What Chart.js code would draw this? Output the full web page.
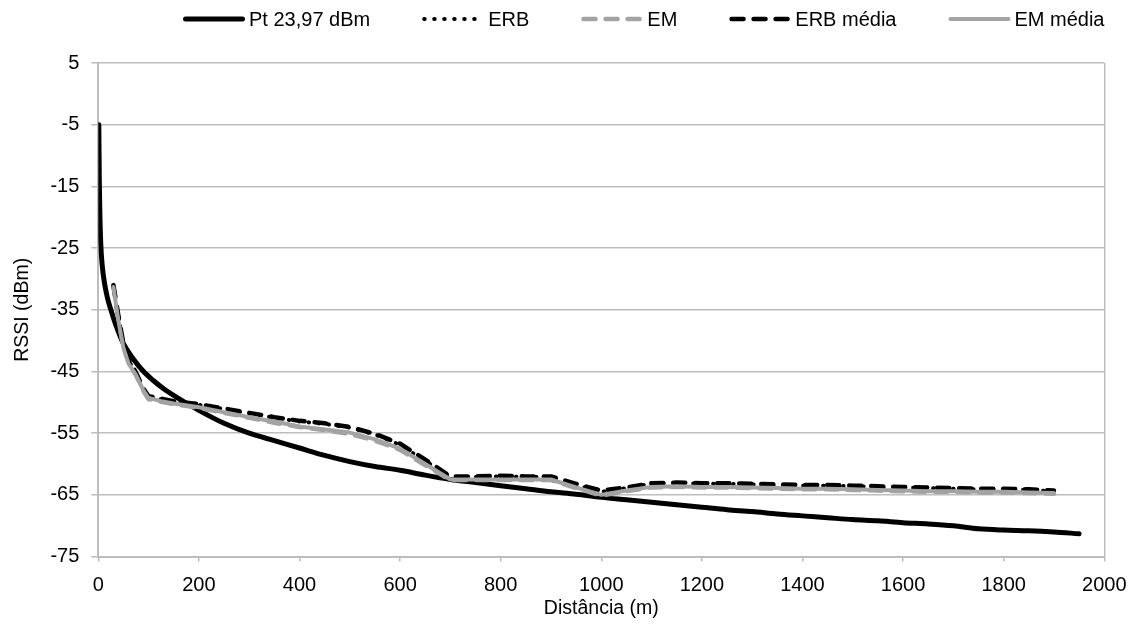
<!DOCTYPE html>
<html lang="pt-BR">
<head>
<meta charset="utf-8">
<title>RSSI x Distância</title>
<script src="https://cdn.jsdelivr.net/npm/chart.js@4.4.1/dist/chart.umd.min.js"></script>
<style>
    html, body { margin: 0; padding: 0; background: #fff; }
    canvas { display: block; }
</style>
</head>
<body>
<canvas id="graficoRssi" width="1138" height="630"></canvas>
<script>

/* =========================
   DADOS
========================= */

// curva teórica (Pt 23,97 dBm)
const distPt = [
    1, 2, 3, 5, 8, 12, 18, 25, 35, 50, 70, 90, 110, 130, 160,
    200, 250, 300, 350, 400, 450, 500, 550, 600, 650, 700, 750,
    800, 850, 900, 950, 1000, 1050, 1100, 1150, 1200, 1250, 1300,
    1350, 1400, 1450, 1500, 1550, 1600, 1650, 1700, 1750, 1800,
    1850, 1900, 1950
];
const rssiPt = [
    -5, -14, -19, -24.5, -28, -30.5, -33, -35, -37.5, -40.5, -43, -45, -46.5, -47.8, -49.4,
    -51.3, -53.4, -55, -56.2, -57.4, -58.6, -59.6, -60.4, -61, -61.8, -62.5, -63,
    -63.5, -64, -64.5, -64.9, -65.4, -65.8, -66.2, -66.6, -67, -67.4, -67.7,
    -68.1, -68.4, -68.7, -69, -69.2, -69.5, -69.7, -70, -70.5, -70.7,
    -70.8, -71, -71.3
];

// medições (ERB / EM)
const distMedidas = [
    30, 40, 50, 60, 75, 90, 100, 125, 150, 200, 250, 300, 350, 400, 450,
    500, 550, 600, 650, 700, 750, 800, 850, 900, 950, 1000, 1050, 1100,
    1150, 1200, 1250, 1300, 1350, 1400, 1450, 1500, 1550, 1600, 1650,
    1700, 1750, 1800, 1850, 1900
];
const rssiErb = [
    -31.2, -36.3, -40.7, -43.2, -45.4, -48.1, -49.2, -49.5, -49.9, -50.4, -51.1, -51.8, -52.5, -53.1, -53.5,
    -54.1, -55.2, -56.9, -59.5, -62.1, -62.1, -62, -62.1, -62.1, -63.4, -64.5, -63.9, -63.2,
    -63.1, -63.2, -63.2, -63.3, -63.4, -63.5, -63.5, -63.6, -63.7, -63.8, -63.9,
    -64, -64.1, -64.1, -64.2, -64.4
];
const rssiEm = [
    -31.1, -36.6, -41, -43.5, -45.6, -48.2, -49.5, -49.9, -50.3, -50.9, -51.7, -52.5, -53.3, -54, -54.5,
    -55.1, -56.2, -57.7, -60.2, -62.6, -62.6, -62.6, -62.6, -62.6, -63.9, -65.1, -64.4, -63.8,
    -63.7, -63.8, -63.8, -63.9, -64, -64.1, -64.1, -64.2, -64.3, -64.4, -64.5,
    -64.5, -64.6, -64.6, -64.7, -64.8
];
const rssiErbMedia = [
    -31, -36, -40.5, -43, -45.2, -47.8, -49, -49.4, -49.8, -50.3, -51, -51.7, -52.4, -53, -53.4,
    -54, -55.1, -56.7, -59.3, -62, -62, -61.9, -62, -62, -63.2, -64.3, -63.8, -63.1,
    -63, -63.1, -63.1, -63.2, -63.3, -63.4, -63.4, -63.5, -63.6, -63.7, -63.8,
    -63.9, -64, -64, -64.1, -64.3
];
const rssiEmMedia = [
    -31.3, -36.8, -41.2, -43.7, -45.6, -48.1, -49.3, -49.8, -50.2, -50.8, -51.6, -52.4, -53.1, -53.9, -54.4,
    -54.9, -56, -57.5, -60, -62.5, -62.5, -62.5, -62.5, -62.5, -63.8, -65, -64.3, -63.7,
    -63.6, -63.7, -63.7, -63.8, -63.9, -64, -64, -64.1, -64.2, -64.3, -64.4,
    -64.4, -64.5, -64.5, -64.6, -64.7
];

// marcas dos eixos
const xTicks = [0, 200, 400, 600, 800, 1000, 1200, 1400, 1600, 1800, 2000];
const yTicks = [5, -5, -15, -25, -35, -45, -55, -65, -75];


/* =========================
   ESTILO
========================= */

const fonte = '"Liberation Sans", Arial, sans-serif';
const cinzaGrade = "#bdbdbd";
const cinzaSerie = "#a3a3a3";

Chart.defaults.font.family = fonte;
Chart.defaults.color = "#000";

function pontos(xs, ys) {
    return xs.map((x, i) => ({ x, y: ys[i] }));
}


/* =========================
   LEGENDA (linhas)
========================= */

const legendaLinhas = {

    id: "legendaLinhas",

    afterDraw(chart) {

        const ctx = chart.ctx;
        const amostra = 62;
        const espacoTexto = 4;
        const espacoItem = 52;
        const y = 19;

        let x = 183;

        ctx.save();
        ctx.font = "20px " + fonte;
        ctx.textBaseline = "middle";

        chart.data.datasets.forEach(ds => {

            ctx.beginPath();
            ctx.strokeStyle = ds.borderColor;
            ctx.lineWidth = ds.borderWidth;
            ctx.lineCap = ds.borderCapStyle || "butt";
            ctx.setLineDash(ds.borderDash || []);
            ctx.moveTo(x + ds.borderWidth / 2, y);
            ctx.lineTo(x + amostra - ds.borderWidth / 2, y);
            ctx.stroke();

            ctx.setLineDash([]);
            ctx.fillStyle = "#000";
            ctx.fillText(ds.label, x + amostra + espacoTexto, y + 1);

            x += amostra + espacoTexto + ctx.measureText(ds.label).width + espacoItem;

        });

        ctx.restore();

    }

};


/* =========================
   GRÁFICO
========================= */

const canvas = document.getElementById("graficoRssi");

new Chart(canvas.getContext("2d"), {

    type: "line",

    data: {
        datasets: [
            {
                label: "Pt 23,97 dBm",
                data: pontos(distPt, rssiPt),
                borderColor: "#000",
                borderWidth: 5,
                borderCapStyle: "round",
                cubicInterpolationMode: "monotone",
                order: 5
            },
            {
                label: "ERB",
                data: pontos(distMedidas, rssiErb),
                borderColor: "#000",
                borderWidth: 4,
                borderCapStyle: "round",
                borderDash: [0.5, 9.5],
                order: 4
            },
            {
                label: "EM",
                data: pontos(distMedidas, rssiEm),
                borderColor: cinzaSerie,
                borderWidth: 4.5,
                borderCapStyle: "round",
                borderDash: [12, 10],
                order: 3
            },
            {
                label: "ERB média",
                data: pontos(distMedidas, rssiErbMedia),
                borderColor: "#000",
                borderWidth: 4.5,
                borderCapStyle: "round",
                borderDash: [12, 10],
                order: 2
            },
            {
                label: "EM média",
                data: pontos(distMedidas, rssiEmMedia),
                borderColor: cinzaSerie,
                borderWidth: 4,
                borderCapStyle: "round",
                order: 1
            }
        ]
    },

    options: {
        responsive: false,
        animation: false,
        events: [],
        layout: {
            padding: { top: 63, right: 33, bottom: 0, left: 0 }
        },
        elements: {
            point: { radius: 0 },
            line: { tension: 0, borderJoinStyle: "round" }
        },
        plugins: {
            legend: { display: false },
            tooltip: { enabled: false }
        },
        scales: {
            x: {
                type: "linear",
                min: 0,
                max: 2000,
                afterBuildTicks: axis => {
                    axis.ticks = xTicks.map(v => ({ value: v }));
                },
                ticks: {
                    font: { size: 20 },
                    padding: 11.5,
                    maxRotation: 0,
                    autoSkip: false,
                    callback: v => String(v)
                },
                grid: {
                    color: c => (c.tick && c.tick.value === 2000) ? cinzaGrade : "transparent",
                    tickColor: cinzaGrade,
                    tickLength: 5,
                    lineWidth: 1.5
                },
                border: { color: cinzaGrade, width: 2 },
                title: {
                    display: true,
                    text: "Distância (m)",
                    font: { size: 19.5 },
                    padding: { top: -12, bottom: 10 }
                }
            },
            y: {
                type: "linear",
                min: -75,
                max: 5,
                afterBuildTicks: axis => {
                    axis.ticks = yTicks.map(v => ({ value: v }));
                },
                ticks: {
                    font: { size: 20 },
                    padding: 12
                },
                grid: {
                    color: cinzaGrade,
                    tickColor: cinzaGrade,
                    tickLength: 7,
                    lineWidth: 1.5
                },
                border: { color: cinzaGrade, width: 2 },
                title: {
                    display: true,
                    text: "RSSI (dBm)",
                    font: { size: 19.5 },
                    padding: { top: 11, bottom: 4 }
                }
            }
        }
    },

    plugins: [legendaLinhas]

});

</script>
</body>
</html>
